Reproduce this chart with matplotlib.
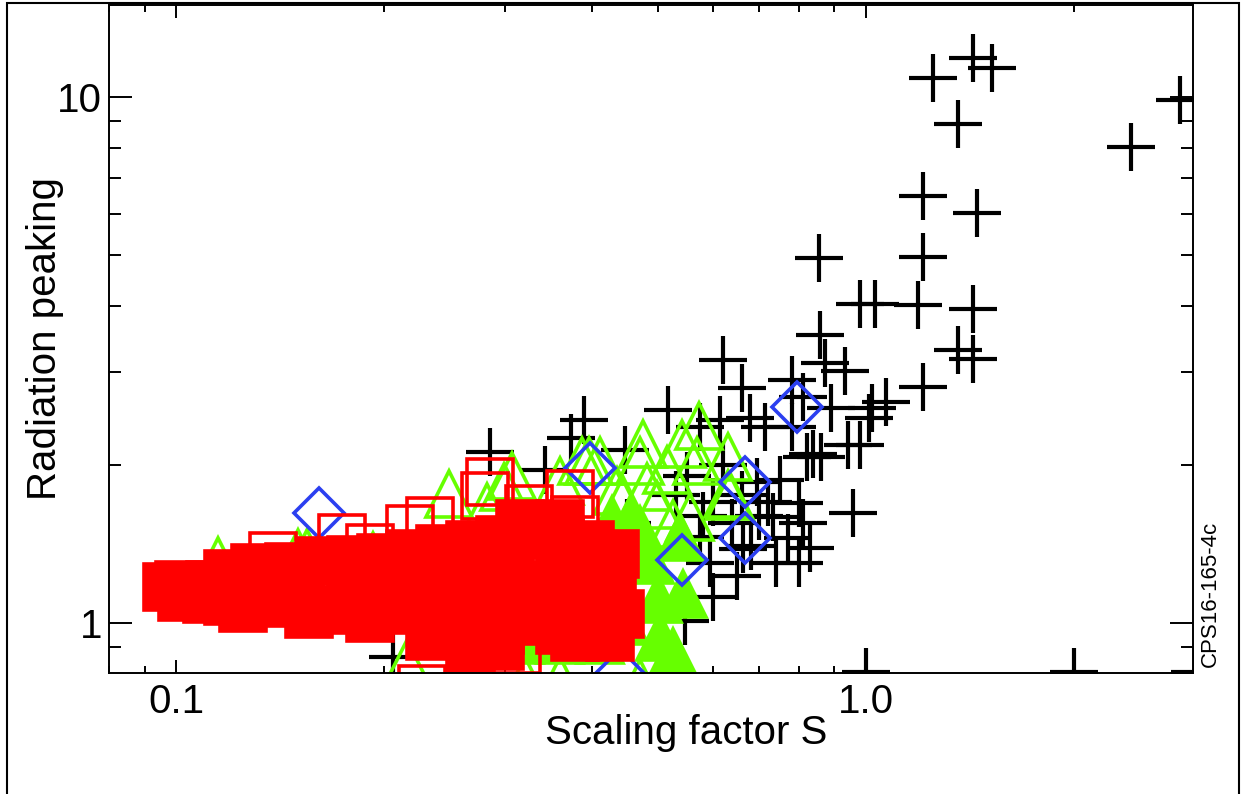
import matplotlib.pyplot as plt
from matplotlib.ticker import LogLocator, NullFormatter
from matplotlib.patches import Rectangle

plt.rcParams['font.family'] = ['Liberation Sans', 'DejaVu Sans']

# black crosses
black_x = [1.25, 1.43, 1.52, 1.36, 2.42, 2.85, 1.21, 1.45, 0.855, 1.21, 0.98, 1.03,
           1.19, 1.43, 0.857, 1.36, 1.43, 0.872, 0.932, 1.21, 1.07, 1.02, 1.01,
           0.62, 0.66, 0.78, 0.81, 0.89, 0.98, 0.82, 0.86, 0.516, 0.614, 0.679,
           0.575, 0.714, 0.78, 0.838, 0.94, 0.957, 0.80, 0.733, 0.81, 0.77, 0.83,
           0.80, 0.663, 0.65, 0.60, 0.547, 0.695, 0.75, 0.575, 0.594,
           0.62, 0.66, 0.70, 0.55, 0.60, 0.72, 0.64, 0.68, 0.74, 0.58, 0.53, 0.45,
           0.447, 0.343, 0.206, 0.285, 0.39, 0.373,
           1.0, 2.0, 3.0]
black_y = [10.87, 11.86, 11.35, 8.89, 8.03, 9.87, 6.48, 6.02, 4.94, 4.96, 4.04, 4.04,
           4.02, 3.95, 3.53, 3.30, 3.18, 3.12, 3.01, 2.81, 2.63, 2.56, 2.45,
           3.16, 2.80, 2.90, 2.69, 2.56, 2.18, 2.07, 2.07, 2.54, 2.43, 2.45,
           2.36, 2.36, 2.36, 2.10, 2.18, 1.62, 1.69, 1.59, 1.55, 1.45, 1.39,
           1.30, 1.38, 1.23, 1.12, 1.01, 1.85, 1.87, 1.46, 1.30,
           2.0, 1.75, 1.6, 1.9, 1.7, 1.7, 1.55, 1.4, 1.3, 1.6, 1.75, 1.55,
           2.13, 1.95, 0.862, 2.11, 2.43, 2.25,
           0.806, 0.806, 0.806]

# blue diamonds
blue_x = [0.161, 0.794, 0.668, 0.668, 0.541, 0.398, 0.44]
blue_y = [1.62, 2.57, 1.85, 1.45, 1.32, 1.97, 0.80]

# green triangles, open
green_open_x = [0.573, 0.475, 0.631, 0.541, 0.397, 0.412, 0.387, 0.360, 0.307, 0.470,
                0.515, 0.569, 0.635, 0.556, 0.525, 0.436, 0.482, 0.444, 0.498, 0.115,
                0.155, 0.150, 0.164, 0.193, 0.249, 0.282, 0.299, 0.216, 0.32, 0.36,
                0.47, 0.631]
green_open_y = [2.37, 2.19, 2.07, 2.19, 2.03, 2.03, 2.03, 1.86, 1.90, 2.03,
                1.95, 2.03, 1.74, 1.59, 1.54, 1.78, 1.81, 1.71, 1.68, 1.31,
                1.36, 1.36, 1.28, 1.34, 1.76, 1.66, 1.81, 0.84, 0.78, 0.78,
                0.77, 1.76]

# green triangles, filled
green_fill_x = [0.538, 0.543, 0.503, 0.486, 0.4705, 0.447, 0.4185, 0.412, 0.455, 0.428,
                0.385, 0.36, 0.337, 0.315, 0.295, 0.276, 0.4995, 0.525]
green_fill_y = [1.46, 1.135, 0.94, 1.32, 1.50, 1.01, 1.21, 0.93, 1.57, 1.57,
                0.97, 0.93, 1.06, 0.93, 1.11, 1.01, 1.11, 0.88]

# red squares, open
red_open_x = [0.138, 0.174, 0.191, 0.218, 0.233, 0.285, 0.28, 0.372, 0.426, 0.325,
              0.312, 0.227, 0.379]
red_open_y = [1.34, 1.45, 1.39, 1.51, 1.56, 1.85, 1.74, 1.76, 1.31, 1.65,
              0.89, 0.75, 1.57]

# red squares, filled
red_fill_x = [0.097, 0.102, 0.111, 0.119, 0.125, 0.132, 0.142, 0.156, 0.173, 0.191,
              0.233, 0.267, 0.295, 0.267, 0.295, 0.315, 0.360, 0.379, 0.426, 0.428,
              0.366,
              0.101, 0.119, 0.130, 0.146, 0.162, 0.179, 0.198, 0.218, 0.241, 0.267,
              0.295, 0.326, 0.360, 0.398, 0.433, 0.315, 0.360,
              0.112, 0.128, 0.151, 0.179, 0.204, 0.233, 0.267, 0.305, 0.348, 0.398,
              0.440, 0.241, 0.285, 0.326, 0.185, 0.211, 0.151]
red_fill_y = [1.17, 1.12, 1.11, 1.10, 1.07, 1.16, 1.09, 1.04, 1.06, 1.02,
              0.945, 0.896, 0.904, 0.99, 0.97, 1.01, 0.97, 0.94, 0.94, 1.11,
              1.11,
              1.18, 1.24, 1.27, 1.28, 1.31, 1.32, 1.33, 1.35, 1.38, 1.41,
              1.44, 1.47, 1.44, 1.41, 1.35, 1.54, 1.54,
              1.18, 1.17, 1.16, 1.18, 1.16, 1.13, 1.16, 1.21, 1.18, 1.18,
              1.04, 1.04, 1.06, 1.11, 1.11, 1.06, 1.11]

green = '#66ff00'
blue = '#2b3ff0'
red = '#ff0000'

fig = plt.figure(figsize=(12.42, 7.94), dpi=100)
ax = fig.add_axes([0.0878, 0.1524, 0.8728, 0.8413])
ax.set_xscale('log')
ax.set_yscale('log')

ax.plot(black_x, black_y, ls='none', marker='+', ms=35, mew=3.0, color='black')
ax.plot(green_fill_x, green_fill_y, ls='none', marker='^', ms=33, mew=2.6,
        mfc=green, mec=green)
ax.plot(green_open_x, green_open_y, ls='none', marker='^', ms=33, mew=2.6,
        mfc='none', mec=green)
ax.plot(blue_x, blue_y, ls='none', marker='D', ms=25, mew=2.6, mfc='none', mec=blue)
ax.plot(red_open_x, red_open_y, ls='none', marker='s', ms=33, mew=2.6,
        mfc='none', mec=red)
ax.plot(red_fill_x, red_fill_y, ls='none', marker='s', ms=33, mew=2.6,
        mfc=red, mec=red)

ax.set_xlim(0.07995, 2.978)
ax.set_ylim(0.8035, 14.96)

ax.set_xticks([0.1, 1.0])
ax.set_xticklabels(['0.1', '1.0'])
ax.set_yticks([1, 10])
ax.set_yticklabels(['1', '10'])
ax.xaxis.set_minor_locator(LogLocator(base=10, subs=[2, 3, 4, 5, 6, 7, 8, 9], numticks=20))
ax.yaxis.set_minor_locator(LogLocator(base=10, subs=[2, 3, 4, 5, 6, 7, 8, 9], numticks=20))
ax.xaxis.set_minor_formatter(NullFormatter())
ax.yaxis.set_minor_formatter(NullFormatter())

ax.tick_params(axis='x', which='major', direction='in', length=9.5, width=1.4,
               top=True, labelsize=29, pad=7)
ax.tick_params(axis='x', which='minor', direction='in', length=5, width=1.4, top=True)
ax.tick_params(axis='y', which='major', direction='in', length=16.5, width=1.4,
               right=True, labelsize=29, pad=5)
ax.tick_params(axis='y', which='minor', direction='in', length=8.6, width=1.4, right=True)
for s in ax.spines.values():
    s.set_linewidth(1.4)

ax.set_xlabel('Scaling factor S', fontsize=29)
ax.xaxis.set_label_coords(0.532, -0.062)
ax.set_ylabel('Radiation peaking', fontsize=29)
ax.yaxis.set_label_coords(-0.042, 0.5)

fig.text(0.9745, 0.252, 'CPS16-165-4c', rotation=90, ha='center', va='center', fontsize=16)

# outer frame
fig.patches.append(Rectangle((0.0056, -0.01), 0.992, 1.006, transform=fig.transFigure,
                             fill=False, lw=1.5, ec='black'))

fig.savefig('out.png', dpi=100)
